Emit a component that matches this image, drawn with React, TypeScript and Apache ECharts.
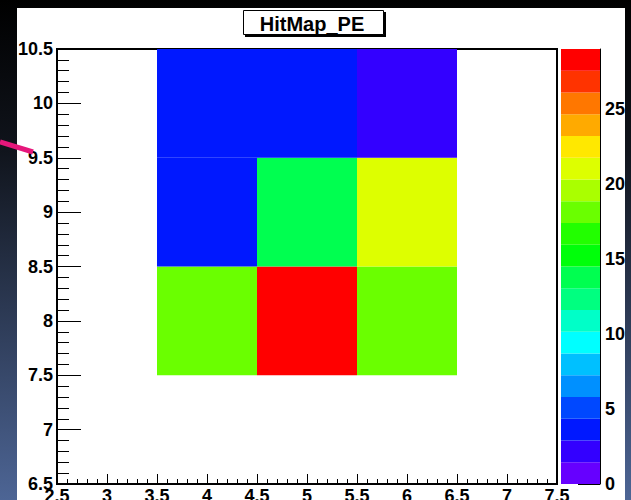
import React, { useEffect, useRef } from "react";
import * as echarts from "echarts";

// ---- data ----
const xBinCenters = [4, 5, 6];
const yBinCenters = [8, 9, 10];
// rows: y = 8, 9, 10 ; columns: x = 4, 5, 6
const peCounts = [
  [18, 29, 18],
  [4, 14, 21],
  [4, 4, 2],
];
const binWidth = 1;
const xRange = [2.5, 7.5];
const yRange = [6.5, 10.5];
const zRange = [0, 29];
const zTicks = [0, 5, 10, 15, 20, 25];
const titleText = "HitMap_PE";
// palette bands, bottom (low) to top (high)
const palette = [
  "#6600ff", "#3300ff", "#0018ff", "#0048ff", "#0090ff",
  "#00c0ff", "#00ffff", "#00ffc8", "#00ff80", "#00ff50",
  "#00ff0a", "#22ff00", "#6aff00", "#aaff00", "#ddff00",
  "#ffe800", "#ffaa00", "#ff7700", "#ff3300", "#ff0000",
];

const levels = palette.map(
  (_, i) => zRange[0] + (i * (zRange[1] - zRange[0])) / palette.length
);
levels.push(zRange[1]);

const heatData: number[][] = [];
yBinCenters.forEach((y, j) => {
  xBinCenters.forEach((x, i) => {
    heatData.push([x, y, peCounts[j][i]]);
  });
});
const colorBarData = palette.map((_, i) => [levels[i], levels[i + 1], i]);

const FONT = "'Liberation Sans', Arial, Helvetica, sans-serif";

export default function App() {
  const ref = useRef<HTMLDivElement>(null);
  useEffect(() => {
    if (!ref.current) return;
    const chart = echarts.init(ref.current, undefined, { renderer: "svg" });
    const labelStyle = {
      color: "#000",
      fontFamily: FONT,
      fontWeight: "bold" as const,
      fontSize: 18,
    };
    const option: any = {
      animation: false,
      backgroundColor: new echarts.graphic.LinearGradient(0, 0, 0, 1, [
        { offset: 0, color: "#000000" },
        { offset: 0.3, color: "#10141c" },
        { offset: 1, color: "#4d6595" },
      ]),
      graphic: [
        {
          type: "rect",
          z: -10,
          shape: { x: 17, y: 8, width: 608, height: 492 },
          style: { fill: "#ffffff" },
        },
        {
          type: "rect",
          z: 100,
          shape: { x: 245, y: 12, width: 141, height: 25 },
          style: { fill: "#000" },
        },
        {
          type: "rect",
          z: 101,
          shape: { x: 243.5, y: 10.5, width: 140, height: 24 },
          style: { fill: "#fff", stroke: "#000", lineWidth: 1 },
        },
        {
          type: "text",
          z: 102,
          x: 312,
          y: 24,
          style: {
            text: titleText,
            fill: "#000",
            font: `bold 20px ${FONT}`,
            textAlign: "center",
            textVerticalAlign: "middle",
          },
        },
        {
          type: "line",
          z: 110,
          shape: { x1: 0, y1: 142, x2: 33, y2: 152 },
          style: { stroke: "#e6177b", lineWidth: 5 },
        },
      ],
      grid: [
        {
          left: 57,
          top: 49,
          width: 500,
          height: 435,
          show: true,
          borderColor: "#000",
          borderWidth: 2,
          backgroundColor: "transparent",
          containLabel: false,
          outerBoundsMode: "none",
        },
        {
          left: 561,
          top: 49,
          width: 39,
          height: 435,
          containLabel: false,
          outerBoundsMode: "none",
        },
      ],
      xAxis: [
        {
          gridIndex: 0,
          type: "value",
          min: xRange[0],
          max: xRange[1],
          interval: 0.5,
          axisLine: { show: true, onZero: false, lineStyle: { color: "#000", width: 2 } },
          axisTick: { show: true, inside: true, length: 10, lineStyle: { color: "#000", width: 1 } },
          minorTick: { show: true, splitNumber: 5, length: 5, lineStyle: { color: "#000", width: 1 } },
          splitLine: { show: false },
          axisLabel: { ...labelStyle, margin: 3 },
        },
        { gridIndex: 1, type: "value", min: 0, max: 1, show: false },
      ],
      yAxis: [
        {
          gridIndex: 0,
          type: "value",
          min: yRange[0],
          max: yRange[1],
          interval: 0.5,
          axisLine: { show: true, onZero: false, lineStyle: { color: "#000", width: 2 } },
          axisTick: { show: true, inside: true, length: 24, lineStyle: { color: "#000", width: 1 } },
          minorTick: { show: true, splitNumber: 5, length: 12, lineStyle: { color: "#000", width: 1 } },
          splitLine: { show: false },
          axisLabel: { ...labelStyle, margin: 4 },
        },
        {
          gridIndex: 1,
          type: "value",
          position: "right",
          min: zRange[0],
          max: zRange[1],
          axisLine: { show: true, onZero: false, lineStyle: { color: "#000", width: 1 } },
          axisTick: {
            show: true,
            inside: true,
            length: 22,
            customValues: zTicks,
            lineStyle: { color: "#000", width: 1 },
          },
          splitLine: { show: false },
          axisLabel: { ...labelStyle, margin: 5, customValues: zTicks },
        },
      ],
      visualMap: {
        type: "piecewise",
        show: false,
        seriesIndex: 0,
        dimension: 2,
        pieces: palette.map((c, i) =>
          i === palette.length - 1
            ? { gte: levels[i], lte: levels[i + 1], color: c }
            : { gte: levels[i], lt: levels[i + 1], color: c }
        ),
      },
      series: [
        {
          type: "custom",
          xAxisIndex: 0,
          yAxisIndex: 0,
          data: heatData,
          encode: { x: 0, y: 1 },
          renderItem: (params: any, api: any) => {
            const x = api.value(0);
            const y = api.value(1);
            const p0 = api.coord([x - binWidth / 2, y + binWidth / 2]);
            const p1 = api.coord([x + binWidth / 2, y - binWidth / 2]);
            return {
              type: "rect",
              shape: { x: p0[0], y: p0[1], width: p1[0] - p0[0], height: p1[1] - p0[1] },
              style: { fill: api.visual("color") },
            };
          },
        },
        {
          type: "custom",
          xAxisIndex: 1,
          yAxisIndex: 1,
          data: colorBarData,
          encode: { y: [0, 1] },
          renderItem: (params: any, api: any) => {
            const p0 = api.coord([0, api.value(1)]);
            const p1 = api.coord([1, api.value(0)]);
            return {
              type: "rect",
              shape: { x: p0[0], y: p0[1], width: p1[0] - p0[0], height: p1[1] - p0[1] },
              style: { fill: palette[api.value(2)] },
            };
          },
        },
      ],
    };
    chart.setOption(option);
    return () => chart.dispose();
  }, []);
  return (
    <div
      ref={ref}
      style={{ position: "absolute", left: 0, top: 0, width: 631, height: 500 }}
    />
  );
}
